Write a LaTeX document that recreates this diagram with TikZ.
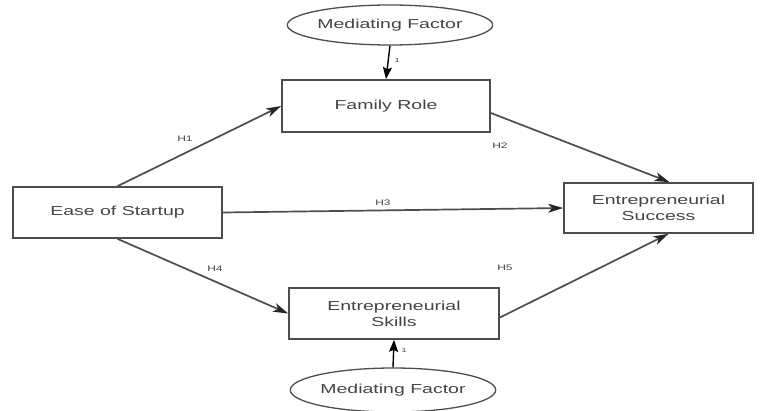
\documentclass[tikz,border=0pt]{standalone}
\usepackage{fontspec}
\setsansfont[FakeStretch=1.5]{Liberation Sans}
\usepackage{tikz}
\usetikzlibrary{shapes, arrows.meta, positioning}

\definecolor{linegray}{HTML}{4D4D4D}
\definecolor{textgray}{HTML}{444444}

\begin{document}
\begin{tikzpicture}[x=1pt,y=-1pt,
    box/.style={draw=linegray,line width=1.7pt,fill=white,rectangle,inner sep=0pt,
      align=center,text=textgray,font=\sffamily\fontsize{13}{16}\selectfont},
    medfactor/.style={draw=linegray,line width=1.3pt,fill=white,ellipse,inner sep=0pt,
      text=textgray,font=\sffamily\fontsize{13}{16}\selectfont,
      minimum width=172pt,minimum height=40pt},
    hyplabel/.style={text=textgray,font=\sffamily\fontsize{8}{9}\selectfont,inner sep=0pt},
    path arrow/.style={draw=linegray,line width=1.7pt,-{Stealth[length=15pt,width=9pt,inset=4pt,color=black!85]}},
    med arrow/.style={draw=black,line width=1.4pt,-{Stealth[length=12pt,width=9pt,inset=2pt]}}]
  \useasboundingbox (0,0) rectangle (763,410);
  % variables
  \node[box,minimum width=209pt,minimum height=51pt] (ease) at (117.5,212.5) {Ease of Startup};
  \node[box,minimum width=208pt,minimum height=52pt] (family) at (386,106) {Family Role};
  \node[box,minimum width=189pt,minimum height=50pt] (success) at (658.5,208) {Entrepreneurial\\Success};
  \node[box,minimum width=210pt,minimum height=51pt] (skills) at (394,313.5) {Entrepreneurial\\Skills};
  % mediating factors
  \node[medfactor] (medtop) at (390,25) {Mediating Factor};
  \node[medfactor,minimum width=176pt,minimum height=44pt] (medbot) at (393,390) {Mediating Factor};
  % hypotheses
  \begin{scope}[every edge/.style={path arrow}]
    \path (ease.north) edge (family.west);
    \path ([yshift=-7pt]family.east) edge ([xshift=11pt]success.north);
    \path (ease.east) edge (success.west);
    \path (ease.south) edge (skills.west);
    \path ([yshift=-4pt]skills.east) edge ([xshift=10pt]success.south);
  \end{scope}
  \begin{scope}[every edge/.style={med arrow}]
    \path (medtop.south) edge (family.north);
    \path (medbot.north) edge (skills.south);
  \end{scope}
  % labels
  \node[hyplabel] (h1) at (185,139) {H1};
  \node[hyplabel] (h2) at (500,146) {H2};
  \node[hyplabel] (h3) at (383,203) {H3};
  \node[hyplabel] (h4) at (215,269) {H4};
  \node[hyplabel] (h5) at (505,268) {H5};
  \node[hyplabel,font=\sffamily\fontsize{6}{7}\selectfont] (w1) at (397,60) {1};
  \node[hyplabel,font=\sffamily\fontsize{6}{7}\selectfont] (w2) at (404,350) {1};
\end{tikzpicture}
\end{document}
